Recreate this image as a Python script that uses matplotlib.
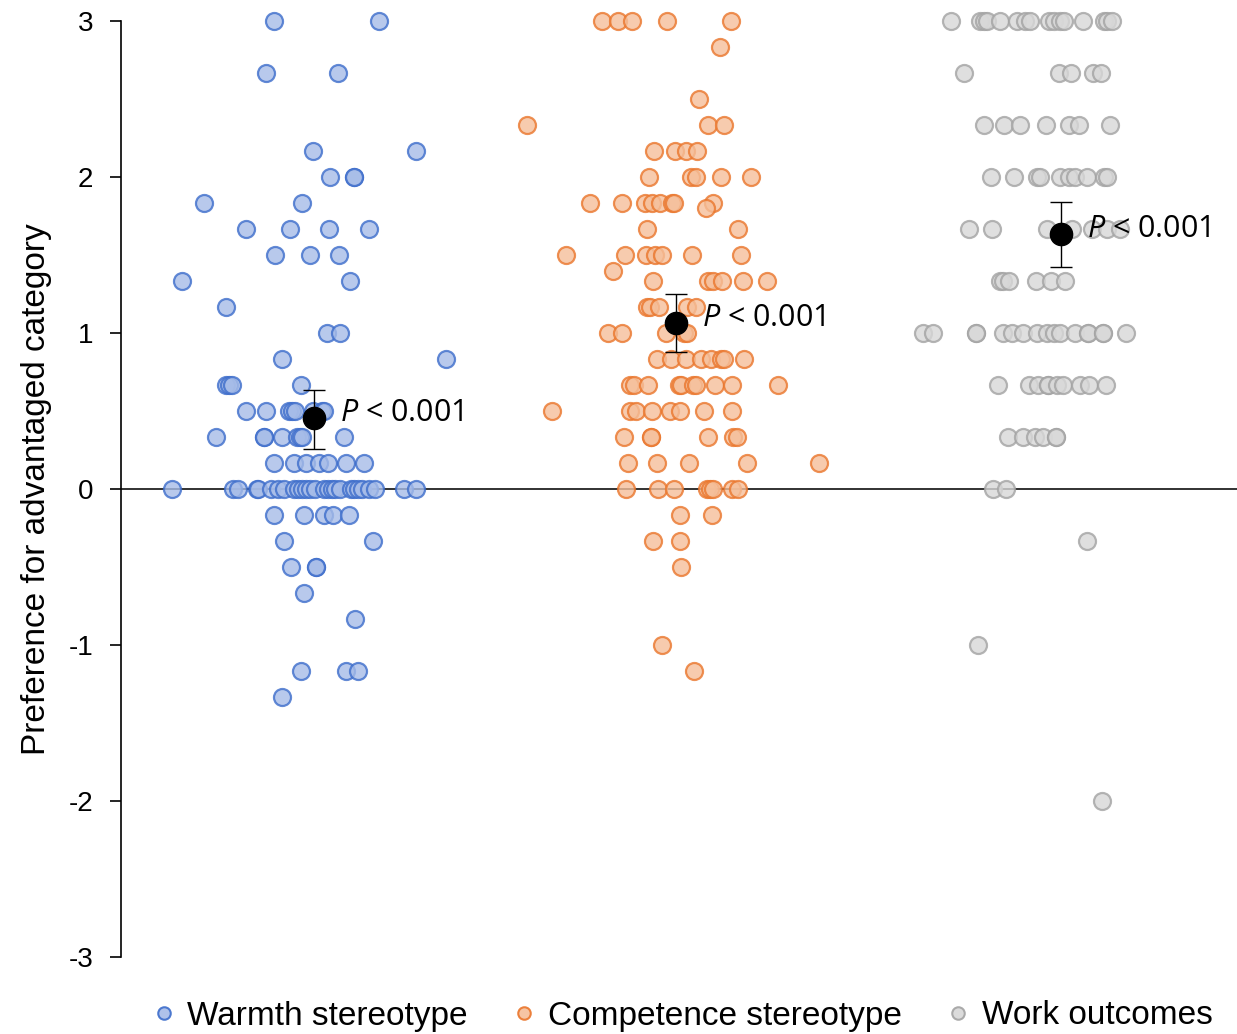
import numpy as np
import matplotlib
matplotlib.use("Agg")
import matplotlib.pyplot as plt
from matplotlib.lines import Line2D

plt.rcParams["mathtext.fontset"] = "custom"
plt.rcParams["mathtext.it"] = "Open Sans:italic"
plt.rcParams["mathtext.rm"] = "Open Sans"

# values: each level holds the x positions (jitter) of the points
warmth_levels = [3.0, 2.667, 2.167, 2.0, 1.833, 1.667, 1.5, 1.333, 1.167, 1.0, 0.833, 0.667, 0.5,
                 0.333, 0.167, 0.0, -0.167, -0.333, -0.5, -0.667, -0.833, -1.167, -1.333]
warmth_x = [
    [274, 379], [266, 338], [313, 416], [330, 354, 354], [204, 302], [246, 290, 329, 369],
    [275, 310, 339], [182, 350], [226], [327, 340], [282, 446], [226, 229, 232, 301],
    [246, 266, 289, 292, 295, 313, 322, 324], [216, 264, 264, 282, 297, 300, 302, 344],
    [274, 294, 306, 319, 328, 346, 364],
    [172, 233, 238, 257, 258, 271, 278, 284, 294, 298, 302, 306, 310, 315, 324, 328, 332, 335,
     340, 351, 354, 358, 362, 369, 375, 404, 416],
    [274, 304, 324, 333, 349], [284, 373], [291, 316, 316], [304], [355], [301, 346, 358], [282],
]

competence_levels = [3.0, 2.833, 2.5, 2.333, 2.167, 2.0, 1.833, 1.8, 1.667, 1.5, 1.4, 1.333, 1.167,
                     1.0, 0.833, 0.667, 0.5, 0.333, 0.167, 0.0, -0.167, -0.333, -0.5, -1.0, -1.167]
competence_x = [
    [602, 618, 632, 667, 731], [720], [699], [527, 708, 724], [654, 675, 686, 697],
    [649, 691, 696, 721, 751], [590, 622, 645, 652, 660, 672, 674, 713], [706], [647, 738],
    [566, 625, 646, 655, 662, 692, 741], [613], [653, 708, 713, 722, 743, 767],
    [647, 650, 659, 687, 696], [608, 622, 666, 684, 687], [657, 671, 686, 701, 711, 721, 724, 744],
    [630, 634, 648, 679, 681, 693, 696, 715, 732, 778], [552, 630, 636, 652, 670, 680, 704, 732],
    [624, 651, 651, 708, 733, 737], [628, 657, 689, 747, 819],
    [626, 658, 674, 707, 710, 713, 732, 738], [680, 712], [653, 680], [681], [662], [694],
]

work_levels = [3.0, 2.667, 2.333, 2.0, 1.667, 1.333, 1.0, 0.667, 0.333, 0.0, -0.333, -1.0, -2.0]
work_x = [
    [951, 980, 984, 987, 1000, 1017, 1025, 1030, 1049, 1054, 1060, 1064, 1083, 1104, 1107, 1112],
    [964, 1059, 1071, 1093, 1101], [984, 1004, 1020, 1046, 1069, 1079, 1110],
    [991, 1014, 1037, 1040, 1060, 1069, 1075, 1087, 1104, 1107],
    [969, 992, 1047, 1072, 1092, 1107, 1120], [1000, 1003, 1009, 1036, 1051, 1065],
    [923, 933, 976, 976, 1003, 1012, 1023, 1037, 1047, 1054, 1060, 1075, 1088, 1088, 1103, 1103, 1126],
    [998, 1029, 1038, 1048, 1048, 1057, 1063, 1080, 1089, 1106],
    [1008, 1023, 1035, 1043, 1056, 1056], [993, 1006], [1087], [978], [1102],
]

group_names = ["Warmth stereotype", "Competence stereotype", "Work outcomes"]
mean_x = [314, 676, 1061]
means = [0.455, 1.064, 1.635]
ci_low = [0.256, 0.878, 1.42]
ci_high = [0.635, 1.25, 1.84]
p_labels = ["$P$ < 0.001", "$P$ < 0.001", "$P$ < 0.001"]

edge_colors = ["#3d6dcb", "#ea762c", "#a3a3a3"]
face_colors = ["#a6bce8", "#f5bf9a", "#d8d8d8"]

fig = plt.figure(figsize=(12.37, 10.34), dpi=100)
ax = fig.add_axes([121 / 1237, 77 / 1034, 1116 / 1237, 936 / 1034])

groups = [(warmth_levels, warmth_x), (competence_levels, competence_x), (work_levels, work_x)]
for i, (levels, xs) in enumerate(groups):
    px = [x for row in xs for x in row]
    py = [lv for lv, row in zip(levels, xs) for _ in row]
    ax.scatter(px, py, s=150, facecolor=face_colors[i], edgecolor=edge_colors[i],
               linewidth=1.6, alpha=0.8, zorder=3, clip_on=False)

ax.axhline(0, color="#222222", lw=1.3, zorder=2)

for i in range(3):
    ax.errorbar(mean_x[i], means[i],
                yerr=[[means[i] - ci_low[i]], [ci_high[i] - means[i]]],
                fmt="o", color="black", ms=16, elinewidth=1.0, capsize=8, capthick=1.0, zorder=5)
    ax.text(mean_x[i] + 26, means[i] + 0.03, p_labels[i], fontsize=22, family="Open Sans",
            va="center", ha="left", zorder=6)

ax.set_xlim(121, 1237)
ax.set_ylim(-3, 3)
ax.set_yticks([-3, -2, -1, 0, 1, 2, 3])
ax.set_yticklabels(["-3", "-2", "-1", "0", "1", "2", "3"])
ax.set_xticks([])
for s in ["top", "right", "bottom"]:
    ax.spines[s].set_visible(False)
ax.spines["left"].set_linewidth(1.2)
ax.tick_params(axis="y", length=8, width=1.2, labelsize=20, pad=12)
for lab in ax.get_yticklabels():
    lab.set_family("Liberation Sans")
ax.set_ylabel("Preference for advantaged category", fontsize=24, family="Liberation Sans",
              labelpad=12)

handles = [Line2D([], [], ls="none", marker="o", ms=9, mfc=face_colors[i], mec=edge_colors[i],
                  mew=1.5, alpha=0.9) for i in range(3)]
fig.legend(handles, group_names, loc="center", bbox_to_anchor=(0.551, 1 - 1016 / 1034), ncol=3,
           frameon=False, prop={"family": "Liberation Sans", "size": 24},
           handletextpad=0.3, columnspacing=1.3, handlelength=0.8)

fig.savefig("out.png", dpi=100)
